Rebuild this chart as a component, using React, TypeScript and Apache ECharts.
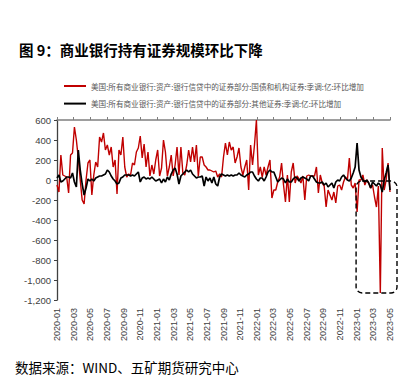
import React, { useEffect, useRef } from "react";
import * as echarts from "echarts";

const titleText = "图 9：商业银行持有证券规模环比下降";
const sourceText = "数据来源：WIND、五矿期货研究中心";
const redName = "美国:所有商业银行:资产:银行信贷中的证券部分:国债和机构证券:季调:亿:环比增加";
const blackName = "美国:所有商业银行:资产:银行信贷中的证券部分:其他证券:季调:亿:环比增加";

const monthLabels = [
  "2020-01", "2020-03", "2020-05", "2020-07", "2020-09", "2020-11",
  "2021-01", "2021-03", "2021-05", "2021-07", "2021-09", "2021-11",
  "2022-01", "2022-03", "2022-05", "2022-07", "2022-09", "2022-11",
  "2023-01", "2023-03", "2023-05",
];

const redValues = [
  -50, -120, 250, 50, 40, 30, -130, 250, 270, 530,
  400, 220, 0, -200, -240, 0, 170, 200, -150, 50,
  180, 130, 430, 380, 470, 300, 350, 250, 330, 130,
  200, -140, 300, 250, 430, 130, 30, 60, 50, 170,
  150, 280, 320, 440, 220, 360, 130, 280, 40, 150,
  60, 200, 300, 40, 120, 400, 280, 40, 130, 250,
  40, 150, 330, 50, 330, 70, 50, 150, 300, 180,
  330, 180, 350, 40, 230, 230, 150, 130, 100, 100,
  90, 80, 90, 30, 60, 30, 230, 370, 250, 380,
  300, 330, 170, 230, 320, 130, 50, 130, 200, -100,
  350, 150, 350, 600, 50, 130, 30, 130, 50, 130,
  200, -180, -100, -100, -20, 30, 170, -50, -220, 50,
  -220, 80, 170, -30, 40, 10, -30, 40, -200, 40,
  50, 40, 40, 40, 130, -130, 50, -30, -60, -270,
  -100, -150, -200, -120, -230, -60, -50, -100, -20, 30,
  0, 220, -50, -80, -30, -320, 0, 0, 50, -50,
  0, -30, -80, -50, -170, -270, -60, -1130, 320, -100,
  0, 170, -120,
];

const blackValues = [
  20, 50, -20, -10, 10, 30, 30, 20, 70, -20,
  -70, 300, 100, -40, -150, -80, 10, -10, 10, -10,
  20, 30, 40, 40, 50, 60, 100, 80, 40, 10,
  -10, -40, -30, 20, 30, 50, 50, 50, 40, 50,
  40, 60, 80, -20, 20, 30, 10, 20,
  10, 30, 10, -10, 0, 10, -30, 10, -20,
  30, 0, 60, 100, 120, 60, -40, 40, 60, 80, 100, 80,
  100, 60, 40, 20, 30, 30, 40, -60, 30, -10,
  20, -30, 30, -40, -60, 30, 60, 50, 40, 50,
  40, 50, 40, 50, 50, 70, 50, 40, 30, 50,
  60, 80, 80, 40, 10, -10, 20,
  20, -10, 30, 80, 100, 80, 80, 30, -20, 0, 20, 10,
  -30, 10, -20, -20, 10, 30, 20, -10, 20, 30,
  20, 10, -10, 40, 40, 10, -20, -30, -30, -20,
  -50, -30, -70, -50, -30, -80, -20,
  0, -10, 30, 50, 20, 0, -10, 20, 70, 130,
  370,
  100, 30, 0, -20, 0, -30, -80, -20, -40, -60, -30, -50, -120, 0, 70, 150, -100,
];

const weekDates: string[] = [];
for (let i = 0; i < redValues.length; i++) {
  weekDates.push(new Date(Date.UTC(2020, 0, 15 + 7 * i)).toISOString().slice(0, 10));
}

const CJK = '"Noto Sans CJK SC", "Noto Sans", sans-serif';
const NUM = '"Liberation Sans", Arial, sans-serif';

export default function App() {
  const ref = useRef<HTMLDivElement>(null);
  useEffect(() => {
    if (!ref.current) return;
    const chart = echarts.init(ref.current, undefined, { renderer: "svg" });
    const sourceGraphic = {
      id: "source",
      type: "text",
      left: 15,
      top: 360,
      style: { text: sourceText, fontFamily: CJK, fontSize: 13.5, fill: "#000" },
    };
    chart.setOption({
      animation: false,
      backgroundColor: "#ffffff",
      title: {
        text: titleText,
        left: 14,
        top: 37,
        textStyle: { fontFamily: CJK, fontSize: 14.5, fontWeight: "bold", color: "#000" },
      },
      legend: {
        orient: "vertical",
        left: 59,
        top: 76,
        icon: "rect",
        itemWidth: 22,
        itemHeight: 2,
        itemGap: 7.6,
        textStyle: { fontFamily: CJK, fontSize: 7.6, color: "#595959", lineHeight: 10 },
        data: [redName, blackName],
      },
      grid: { left: 57, top: 120, right: 22, bottom: 77, containLabel: false },
      xAxis: [
        {
          type: "category",
          data: weekDates,
          boundaryGap: false,
          show: false,
        },
        {
          type: "category",
          data: monthLabels,
          boundaryGap: false,
          position: "bottom",
          axisLine: { show: false, onZero: false },
          axisTick: { show: false },
          splitLine: { show: false },
          axisLabel: {
            rotate: 90,
            interval: 0,
            margin: 8,
            fontFamily: NUM,
            fontSize: 9,
            color: "#404040",
          },
        },
        {
          type: "category",
          data: monthLabels,
          boundaryGap: false,
          axisLine: { show: true, onZero: true, lineStyle: { color: "#7f7f7f", width: 1.6 } },
          axisTick: { show: true, length: 3, interval: 0, lineStyle: { color: "#7f7f7f", width: 1 } },
          axisLabel: { show: false },
          splitLine: { show: false },
        },
      ],
      yAxis: {
        type: "value",
        min: -1200,
        max: 600,
        interval: 200,
        axisLine: { show: true, onZero: false, lineStyle: { color: "#404040", width: 1.3 } },
        axisTick: { show: true, length: 3, lineStyle: { color: "#404040" } },
        splitLine: { show: false },
        axisLabel: {
          margin: 6,
          fontFamily: NUM,
          fontSize: 9.5,
          color: "#404040",
          formatter: (v: number) => v.toLocaleString("en-US"),
        },
      },
      series: [
        {
          name: redName,
          type: "line",
          xAxisIndex: 0,
          yAxisIndex: 0,
          data: redValues,
          symbol: "none",
          lineStyle: { color: "#C00000", width: 1.4 },
          itemStyle: { color: "#C00000" },
        },
        {
          name: blackName,
          type: "line",
          xAxisIndex: 0,
          yAxisIndex: 0,
          data: blackValues,
          symbol: "none",
          lineStyle: { color: "#000000", width: 1.7 },
          itemStyle: { color: "#000000" },
        },
      ],
      graphic: [sourceGraphic],
    });
    const p1 = chart.convertToPixel({ xAxisIndex: 0, yAxisIndex: 0 }, [155, 0]) as number[];
    const p2 = chart.convertToPixel({ xAxisIndex: 0, yAxisIndex: 0 }, [redValues.length - 1, -1130]) as number[];
    if (p1 && p2) {
      const x0 = p1[0] - 1;
      const x1 = p2[0] + 7;
      const y0 = p1[1] + 1;
      const y1 = p2[1];
      chart.setOption({
        graphic: [
          sourceGraphic,
          {
            id: "box",
            type: "rect",
            shape: { x: x0, y: y0, width: x1 - x0, height: y1 - y0, r: 6 },
            style: { fill: "none", stroke: "#000", lineWidth: 1.4, lineDash: [5, 3] },
            z: 100,
          },
        ],
      });
    }
    return () => chart.dispose();
  }, []);
  return (
    <div
      ref={ref}
      style={{ position: "fixed", left: 0, top: 0, width: 412, height: 377, background: "#fff" }}
    />
  );
}
